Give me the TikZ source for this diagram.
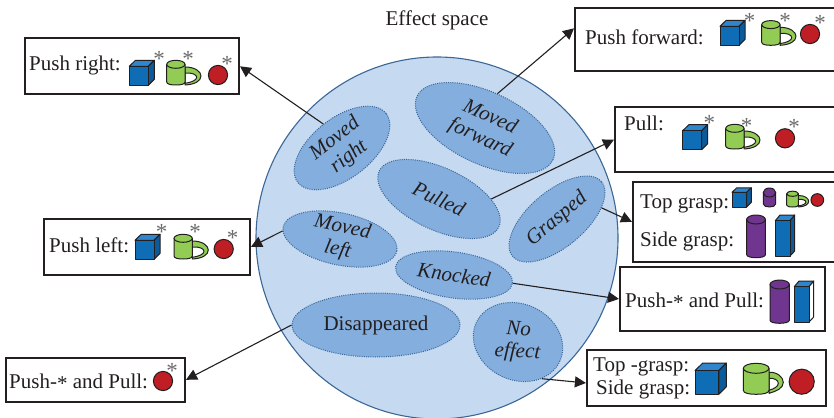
\documentclass[tikz,border=0pt]{standalone}
\usepackage{fontspec}
\setmainfont{Liberation Serif}
\usetikzlibrary{shapes.geometric,arrows.meta}
\definecolor{ink}{HTML}{231F20}
\definecolor{spacefill}{HTML}{C5D9F1}
\definecolor{spaceline}{HTML}{3B6797}
\definecolor{blobfill}{HTML}{84AEDD}
\definecolor{cubefront}{HTML}{0F6DB5}
\definecolor{cubetop}{HTML}{2F86CC}
\definecolor{cubeside}{HTML}{0D5A9A}
\definecolor{mugc}{HTML}{92CC55}
\definecolor{ballc}{HTML}{BE1E24}
\definecolor{cylc}{HTML}{70368F}
\newcommand{\midstar}{\raisebox{-.22ex}{*}}
\tikzset{
  x=1pt,y=-1pt,
  every node/.style={text=ink,font=\fontsize{21}{23}\selectfont},
  bx/.style={draw=ink,line width=1.2pt,fill=white,inner sep=0pt},
  tx/.style={anchor=base west,inner sep=0pt},
  blob/.style={ellipse,draw=spaceline,fill=blobfill,line width=1pt,dash pattern=on 1pt off 1.2pt,inner sep=-25pt,align=center,font=\fontsize{21}{23}\selectfont\itshape},
  conn/.style={draw=ink,line width=1.1pt,-{Triangle[length=11pt,width=11pt]},shorten >=0.5pt},
  astk/.style={text=gray!85!black,inner sep=0pt,yshift=-4.5pt,font=\fontsize{23}{23}\selectfont},
  icon/.style={draw=ink,line width=1pt,line join=round},
  pics/cube/.style={code={
    \fill[cubetop,icon] (0,-19) -- (6.2,-25) -- (25,-25) -- (19,-19) -- cycle;
    \fill[cubeside,icon] (19,-19) -- (25,-25) -- (25,-6) -- (19,0) -- cycle;
    \fill[cubefront,icon] (0,0) rectangle (19,-19);
  }},
  pics/mug/.style={code={
    \fill[mugc,icon] (18.3,-18) .. controls (29,-18) and (34.3,-13) .. (34.3,-9) .. controls (34.3,-4) and (28,-0.5) .. (18.3,0) -- cycle;
    \fill[white,icon] (18.3,-12) .. controls (25,-12.5) and (30,-10.5) .. (30,-7.7) .. controls (30,-5) and (25,-2.5) .. (18.3,-1.7) -- cycle;
    \fill[mugc,icon] (0,-20.7) -- (0,-3) .. controls (0,-0.8) and (4,0) .. (9.15,0) .. controls (14.3,0) and (18.3,-0.8) .. (18.3,-3) -- (18.3,-20.7) -- cycle;
    \fill[mugc,icon] (9.15,-20.7) ellipse [x radius=9.15,y radius=4];
  }},
  pics/bigmug/.style={code={
    \fill[mugc,icon] (25.7,-22) .. controls (34,-22.5) and (40,-17) .. (40,-12) .. controls (40,-6) and (33,-3) .. (25.7,-1) -- cycle;
    \fill[white,icon] (25.7,-16) .. controls (31,-16.5) and (35,-14) .. (35,-11) .. controls (35,-8) and (31,-5.5) .. (25.7,-4) -- cycle;
    \fill[mugc,icon] (0,-26) -- (0,-4) .. controls (0,-1) and (6,0) .. (12.85,0) .. controls (19.7,0) and (25.7,-1) .. (25.7,-4) -- (25.7,-26) -- cycle;
    \fill[mugc,icon] (12.85,-26) ellipse [x radius=12.85,y radius=5];
  }},
  pics/ball/.style={code={\fill[ballc,icon] (0,0) circle [radius=9.6];}},
  pics/cyl/.style 2 args={code={
    \fill[cylc,icon] (0,4-#2) -- (0,-3) .. controls (0,-1) and (#1*.25,0) .. (#1*.5,0) .. controls (#1*.75,0) and (#1,-1) .. (#1,-3) -- (#1,4-#2) -- cycle;
    \fill[cylc,icon] (#1*.5,4.5-#2) ellipse [x radius=#1*.5,y radius=4.5];
  }},
  pics/tallbox/.style={code={
    \fill[cubetop,icon] (0,-35.3) -- (4.7,-41) -- (19.4,-41) -- (14.7,-35.3) -- cycle;
    \fill[#1,icon] (14.7,-35.3) -- (19.4,-41) -- (19.4,-5) -- (14.7,0) -- cycle;
    \fill[cubefront,icon] (0,0) rectangle (14.7,-35.3);
  }},
}
\begin{document}
\begin{tikzpicture}
\useasboundingbox (0,0) rectangle (834,417);
% effect space
\node[circle,draw=spaceline,fill=spacefill,line width=1.1pt,minimum size=362pt,inner sep=0pt] (space) at (437,238) {};
\node[tx,anchor=base] (title) at (437,26) {Effect space};
% regions
\node[blob,minimum width=112pt,minimum height=60pt,rotate=38] (mr) at (342,148) {Moved\\right};
\node[blob,minimum width=150pt,minimum height=72pt,rotate=-25] (mf) at (485,128) {Moved\\forward};
\node[blob,minimum width=132pt,minimum height=62pt,rotate=-25] (pu) at (439,199) {Pulled};
\node[blob,minimum width=116pt,minimum height=56pt,rotate=40] (gr) at (557,219) {Grasped};
\node[blob,minimum width=116pt,minimum height=52pt,rotate=-12] (ml) at (340,239) {Moved\\left};
\node[blob,minimum width=118pt,minimum height=46pt,rotate=-8] (kn) at (454,275) {Knocked};
\node[blob,minimum width=168pt,minimum height=64pt,font=\fontsize{21}{23}\selectfont] (di) at (376,325) {Disappeared};
\node[blob,minimum width=92pt,minimum height=76pt,rotate=-25] (ne) at (518,342) {\rotatebox{22}{\begin{tabular}{@{}c@{}}No\\[-1pt]effect\end{tabular}}};
% boxes
\node[bx,minimum width=214pt,minimum height=56pt] (b1) at (132,66) {};
\node[bx,minimum width=262pt,minimum height=63pt] (b2) at (706,39.5) {};
\node[bx,minimum width=222pt,minimum height=65pt] (b3) at (726,139.5) {};
\node[bx,minimum width=204pt,minimum height=80pt] (b4) at (735,222) {};
\node[bx,minimum width=205pt,minimum height=64pt] (b5) at (722.5,299) {};
\node[bx,minimum width=239pt,minimum height=56pt] (b6) at (706.5,378) {};
\node[bx,minimum width=206pt,minimum height=56pt] (b7) at (147,247) {};
\node[bx,minimum width=179pt,minimum height=44pt] (b8) at (95.5,380) {};
% box texts
\node[tx] (t1) at (29,71) {Push right:};
\node[tx] (t2) at (585,45) {Push forward:};
\node[tx] (t3) at (624,130) {Pull:};
\node[tx] (t4a) at (640,208) {Top grasp:};
\node[tx] (t4b) at (640,246) {Side grasp:};
\node[tx] (t5) at (625,307) {Push-\midstar{} and Pull:};
\node[tx] (t6a) at (593,371) {Top -grasp:};
\node[tx] (t6b) at (596,394) {Side grasp:};
\node[tx] (t7) at (49,252) {Push left:};
\node[tx] (t8) at (9,388) {Push-\midstar{} and Pull:};
% icons: push right
\pic at (129.3,85.3) {cube};
\pic at (166.7,85) {mug};
\pic at (218,75) {ball};
\node[astk] (s1) at (159,54) {*};
\node[astk] (s2) at (188,54) {*};
\node[astk] (s3) at (227,59) {*};
% push forward
\pic at (720,45.3) {cube};
\pic at (761.7,45.3) {mug};
\pic at (810,34) {ball};
\node[astk] (s4) at (749.7,16) {*};
\node[astk] (s5) at (785,16) {*};
\node[astk] (s6) at (820,18) {*};
% pull
\pic at (682.7,149.7) {cube};
\pic at (725.7,149) {mug};
\pic at (785,138.3) {ball};
\node[astk] (s7) at (709.3,118) {*};
\node[astk] (s8) at (746.7,121) {*};
\node[astk] (s9) at (794,122) {*};
% grasp
\pic[scale=.77] at (732,207) {cube};
\pic at (763.3,207) {cyl={12.3}{19}};
\pic[scale=.64] at (786.7,207) {mug};
\pic[scale=.66] at (817.3,200) {ball};
\pic at (746.7,257.7) {cyl={18.7}{42.7}};
\pic at (775.3,256) {tallbox=cubeside};
% push-* and pull right
\pic at (770,323.3) {cyl={19.3}{43.3}};
\pic at (794.3,322) {tallbox=white};
% bottom right
\pic[scale=1.25] at (695,394.3) {cube};
\pic at (743.3,394.3) {bigmug};
\pic[scale=1.31] at (801.7,381.7) {ball};
% push left
\pic at (135,259.3) {cube};
\pic at (174,259) {mug};
\pic at (223.7,249) {ball};
\node[astk] (s10) at (161.7,227) {*};
\node[astk] (s11) at (195,227) {*};
\node[astk] (s12) at (232.7,233.5) {*};
% push-* and pull left
\pic at (163,381) {ball};
\node[astk] (s13) at (172,366) {*};
% connectors
\draw[conn] (mr.90) -- (b1.east);
\draw[conn] (mf.95) -- ([yshift=11.5pt]b2.west);
\draw[conn] (pu.25) -- (b3.west);
\draw[conn] (gr.-26) -- (b4.west);
\draw[conn] (ml.184) -- (b7.east);
\draw[conn] (kn.0) -- (b5.west);
\draw[conn] (di.180) -- (b8.east);
\draw[conn] (ne.-32) -- ([yshift=-5pt]b6.west);
\end{tikzpicture}
\end{document}
